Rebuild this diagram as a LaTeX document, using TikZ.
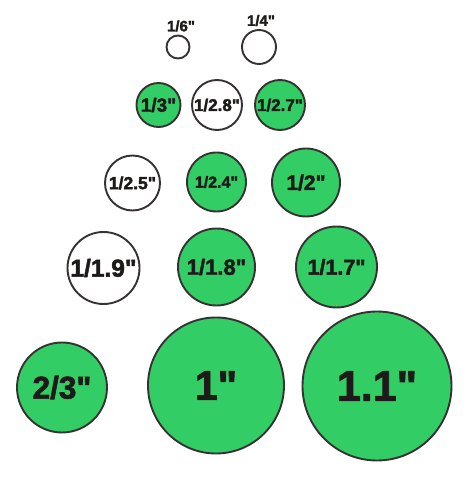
\documentclass[tikz,border=0pt]{standalone}
\usepackage{fontspec}
\setmainfont{Liberation Sans}
\newfontfamily\heavy[FakeBold=2]{Liberation Sans Bold}
\newcommand\inch{\char34}
\definecolor{disc}{RGB}{51,205,102}
\definecolor{rim}{RGB}{55,50,50}
\definecolor{ink}{RGB}{30,26,26}
\begin{document}
\begin{tikzpicture}[x=1pt,y=1pt,
  sensor/.style={circle,draw=rim,line width=1.9pt,inner sep=0pt,text=ink},
  green/.style={sensor,fill=disc},
  blank/.style={sensor,fill=white},
  fs/.style={font=\heavy\fontsize{#1}{#1}\selectfont},
  tag/.style={inner sep=0pt,text=ink,fs=15}]
\useasboundingbox (0,0) rectangle (465,480);
% row 0
\node[blank,minimum size=23pt] (s6) at (178,433) {};
\node[tag] (l6) at (181,454) {1/6\inch};
\node[blank,minimum size=34pt] (s4) at (259,433) {};
\node[tag] (l4) at (261,459.5) {1/4\inch};
% row 1
\node[green,minimum size=44pt,fs=19] (s3) at (158.5,375) {1/3\inch};
\node[blank,minimum size=50pt,fs=17] (s28) at (217,375) {1/2.8\inch};
\node[green,minimum size=50pt,fs=17] (s27) at (280,375) {1/2.7\inch};
% row 2
\node[blank,minimum size=55pt,fs=17.5] (s25) at (132.5,297) {1/2.5\inch};
\node[green,minimum size=59pt,fs=16] (s24) at (216.5,298) {1/2.4\inch};
\node[green,minimum size=68pt,fs=21] (s2) at (306,297.5) {1/2\inch};
% row 3
\node[blank,minimum size=72pt,fs=24.5] (s19) at (103.5,212) {1/1.9\inch};
\node[green,minimum size=77pt,fs=22] (s18) at (216.5,213) {1/1.8\inch};
\node[green,minimum size=81pt,fs=21.5] (s17) at (336.5,213) {1/1.7\inch};
% row 4
\node[green,minimum size=90pt,fs=31.5] (s23) at (62,92.5) {2/3\inch};
\node[green,minimum size=136pt,fs=41] (s1) at (216,94.5) {1\inch};
\node[green,minimum size=149pt,fs=43] (s11) at (377,94) {1.1\inch};
\end{tikzpicture}
\end{document}
